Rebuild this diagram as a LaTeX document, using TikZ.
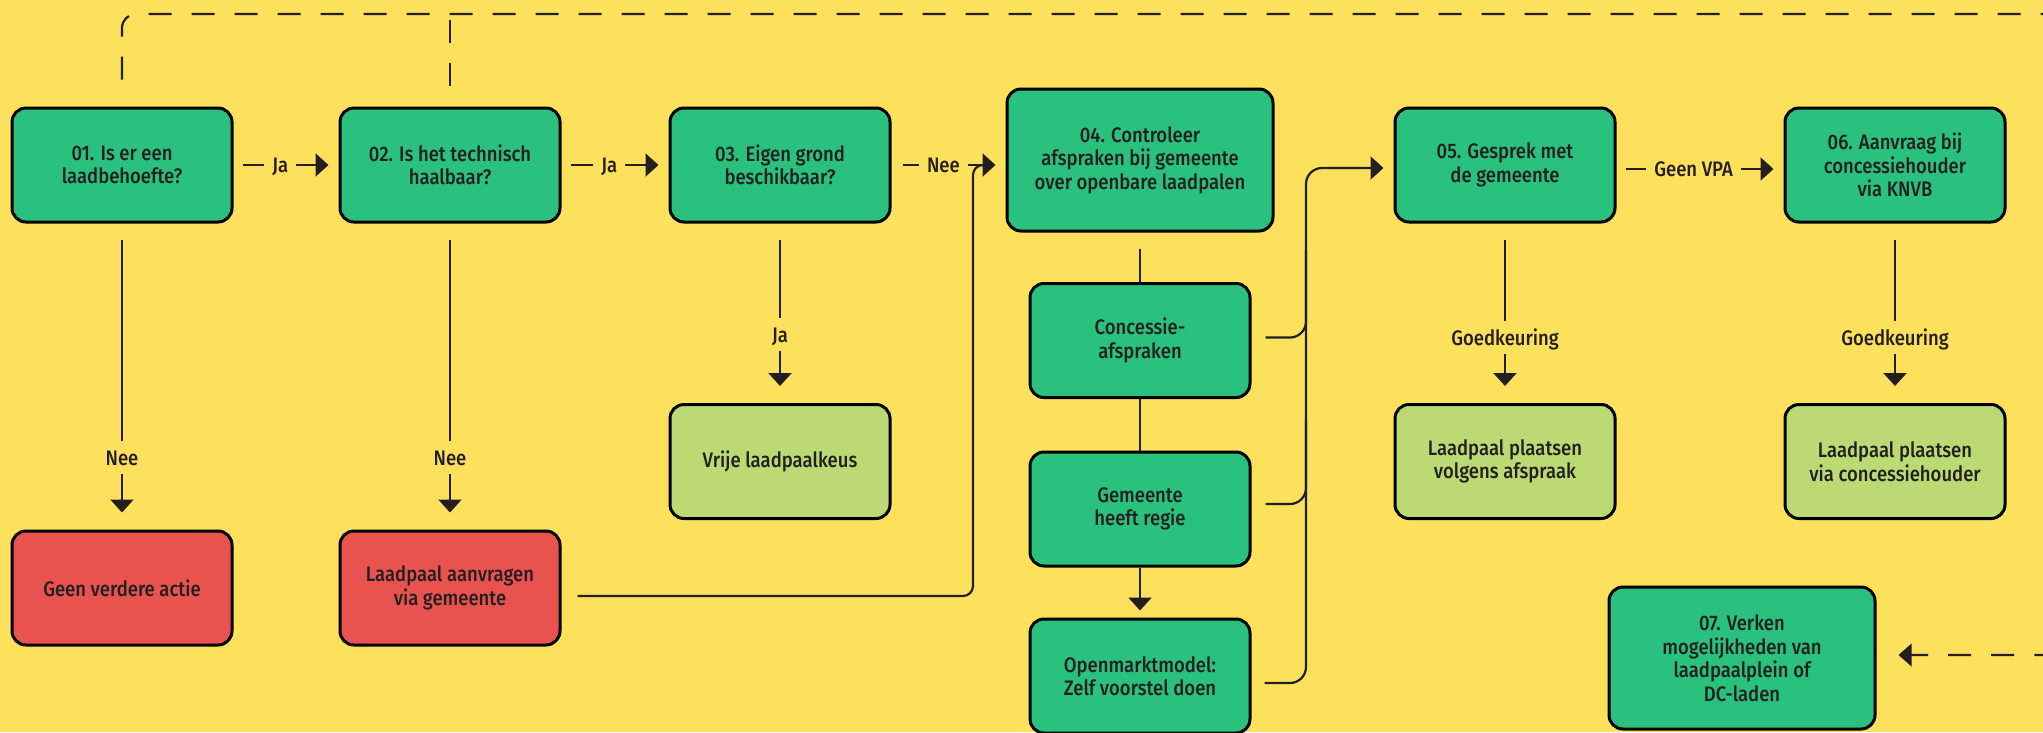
\documentclass[tikz,border=0pt]{standalone}
\usepackage{fontspec}
\setmainfont{Fira Sans}[FakeStretch=0.88,BoldFont={Fira Sans Medium}]
\usetikzlibrary{arrows.meta,calc}
\definecolor{bg}{HTML}{FDE05B}
\definecolor{gr}{HTML}{2AC17E}
\definecolor{lg}{HTML}{BCDA74}
\definecolor{rd}{HTML}{E9534F}
\definecolor{ink}{HTML}{231F20}
\begin{document}
\begin{tikzpicture}[x=1pt,y=-1pt,
  txt/.style={font=\fontsize{21}{23.5}\selectfont\bfseries, text=ink},
  box/.style={txt, draw=black, line width=3pt, rounded corners=14pt,
    minimum width=220pt, minimum height=114pt, align=center, inner sep=0pt, fill=gr},
  bigbox/.style={box, minimum width=266pt, minimum height=142pt},
  redbox/.style={box, fill=rd},
  okbox/.style={box, fill=lg},
  conn/.style={draw=ink, line width=2.2pt},
  arr/.style={conn, -{Triangle[length=13pt,width=23pt]}},
  dsh/.style={conn, dash pattern=on 23pt off 20pt},
  lab/.style={txt, fill=bg, inner xsep=8pt, inner ysep=9pt, text height=15pt, text depth=0pt},
]
\useasboundingbox[fill=bg] (0,0) rectangle (2043,732);

% top row
\node[box] (b1) at (122,165) {01. Is er een\\laadbehoefte?};
\node[box] (b2) at (450,165) {02. Is het technisch\\haalbaar?};
\node[box] (b3) at (780,165) {03. Eigen grond\\beschikbaar?};
\node[bigbox] (b4) at (1140,160) {04. Controleer\\afspraken bij gemeente\\over openbare laadpalen};
\node[box] (b5) at (1505,165) {05. Gesprek met\\de gemeente};
\node[box] (b6) at (1895,165) {06. Aanvraag bij\\concessiehouder\\via KNVB};

% outcome boxes
\node[redbox] (r1) at (122,588) {Geen verdere actie};
\node[redbox] (r2) at (450,588) {Laadpaal aanvragen\\via gemeente};
\node[okbox] (v3) at (780,461.5) {Vrije laadpaalkeus};
\node[okbox] (g5) at (1505,461.5) {Laadpaal plaatsen\\volgens afspraak};
\node[okbox] (g6) at (1895,461.5) {Laadpaal plaatsen\\via concessiehouder};

% column under 04
\node[box] (c1) at (1140,340.5) {Concessie-\\afspraken};
\node[box] (c2) at (1140,509) {Gemeente\\heeft regie};
\node[box] (c3) at (1140,676) {Openmarktmodel:\\Zelf voorstel doen};

\node[bigbox] (b7) at (1742,658) {07. Verken\\mogelijkheden van\\laadpaalplein of\\DC-laden};

% coordinates
\coordinate (j1) at (973,596);
\coordinate (j2) at (973,165);
\coordinate (k1) at (1306,168);
\coordinate (k2) at (1306,683);
\coordinate (k3) at (1306,250);
\coordinate (k4) at (1306,420);
\coordinate (d1) at (122,14);
\coordinate (d2) at (2057,14);
\coordinate (d3) at (2057,655);

% horizontal arrows
\draw[arr] ($(b1.east)+(9,0)$) -- node[lab,pos=0.44]{Ja} ($(b2.west)+(-10,0)$);
\draw[arr] ($(b2.east)+(9,0)$) -- node[lab,pos=0.44]{Ja} ($(b3.west)+(-10,0)$);
\draw[arr] ($(b3.east)+(11,0)$) -- node[lab,pos=0.44]{Nee} ($(b3.east -| b4.west)+(-10,0)$);
\draw[arr] ($(b5.east)+(9,4)$) -- node[lab,pos=0.46]{Geen VPA} ($(b6.west)+(-10,4)$);

% vertical arrows
\draw[arr] ($(b1.south)+(0,16)$) -- node[lab,pos=0.8]{Nee} ($(r1.north)+(0,-17)$);
\draw[arr] ($(b2.south)+(0,16)$) -- node[lab,pos=0.8]{Nee} ($(r2.north)+(0,-17)$);
\draw[arr] ($(b3.south)+(0,16)$) -- node[lab,pos=0.65]{Ja} ($(v3.north)+(0,-17)$);
\draw[arr] ($(b5.south)+(0,16)$) -- node[lab,pos=0.67]{Goedkeuring} ($(g5.north)+(0,-17)$);
\draw[arr] ($(b6.south)+(0,16)$) -- node[lab,pos=0.67]{Goedkeuring} ($(g6.north)+(0,-17)$);

% 04 column
\draw[conn] ($(b4.south)+(0,16)$) -- (c1.north);
\draw[conn] (c1.south) -- (c2.north);
\draw[arr] (c2.south) -- ($(c3.north)+(0,-7)$);

% return from r2 into 04
\draw[conn, rounded corners=10pt] ($(r2.east)+(16,8)$) -- (j1) -- (j2) -- ($(j2)+(16,0)$);

% options into 05
\draw[arr, rounded corners=16pt] ($(c3.east)+(13,7)$) -- (k2) -- (k1) -- ($(b5.west)+(-10,3)$);
\draw[conn, rounded corners=16pt] ($(c1.east)+(14,-3)$) -| (k3);
\draw[conn, rounded corners=16pt] ($(c2.east)+(14,-5)$) -| (k4);

% dashed loop
\draw[dsh, rounded corners=14pt] ($(b1.north)+(0,-27)$) -- (d1) -- (d2) -- (d3) -- ($(b7.east)+(22,-3)$);
\draw[dsh] ($(b2.north)+(0,-21)$) -- (b2.north |- d1);
\fill[ink] ($(b7.east)+(22,-3)$) -- ++(13,-11.5) -- ++(0,23) -- cycle;
\end{tikzpicture}
\end{document}
